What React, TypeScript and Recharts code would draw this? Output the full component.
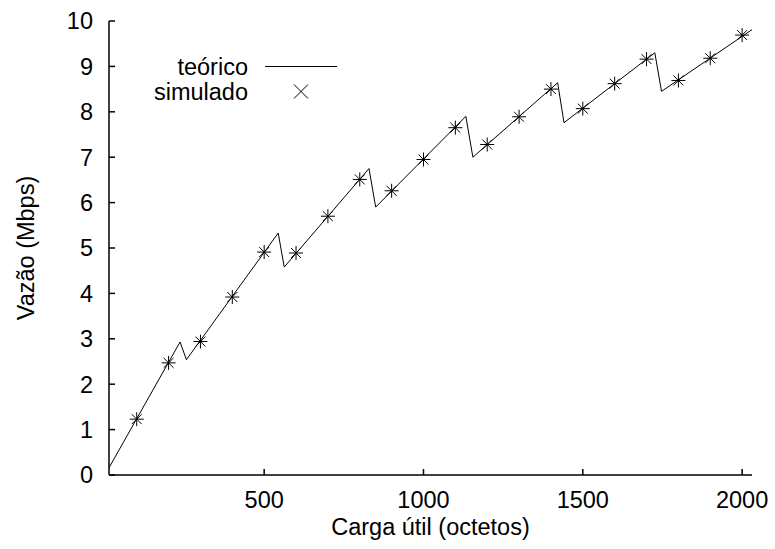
import React from 'react';
import { ComposedChart, Line, Scatter, XAxis, YAxis, Label } from 'recharts';

const theoryX = [13, 236, 256, 544, 563, 829, 850, 1133, 1155, 1421, 1441, 1726, 1747, 2031];
const theoryY = [0.16, 2.93, 2.54, 5.33, 4.58, 6.75, 5.9, 7.9, 7.0, 8.64, 7.76, 9.3, 8.45, 9.81];
const simX = [100, 200, 300, 400, 500, 600, 700, 800, 900, 1000, 1100, 1200, 1300, 1400, 1500, 1600, 1700, 1800, 1900, 2000];
const simY = [1.23, 2.47, 2.94, 3.92, 4.91, 4.89, 5.7, 6.51, 6.26, 6.95, 7.65, 7.28, 7.89, 8.5, 8.07, 8.62, 9.16, 8.69, 9.18, 9.69];
const xTicks = [500, 1000, 1500, 2000];
const yTicks = [0, 1, 2, 3, 4, 5, 6, 7, 8, 9, 10];
const xDomain = [13, 2031];
const yDomain = [0, 10];
const seriesNames = ['teórico', 'simulado'];

const theoryData = theoryX.map((x, i) => ({ x, y: theoryY[i] }));
const simData = simX.map((x, i) => ({ x, y: simY[i] }));

const FONT = '"Liberation Sans", Arial, Helvetica, sans-serif';
const FS = 23.5;
const tickStyle = { fontSize: FS, fill: '#000', fontFamily: FONT };

const Star = (props: any) => {
  const { cx, cy } = props;
  if (cx == null || cy == null) return null;
  const r = 7;
  const d = r * 0.7071;
  return (
    <g stroke="#000" strokeWidth={1}>
      <line x1={cx - r} y1={cy} x2={cx + r} y2={cy} />
      <line x1={cx} y1={cy - r} x2={cx} y2={cy + r} />
      <line x1={cx - d} y1={cy - d} x2={cx + d} y2={cy + d} />
      <line x1={cx - d} y1={cy + d} x2={cx + d} y2={cy - d} />
    </g>
  );
};

const LegendOverlay = () => (
  <svg width={400} height={110} style={{ position: 'absolute', left: 0, top: 0, display: 'block', pointerEvents: 'none' }}>
    <text x={248} y={74.5} textAnchor="end" fontSize={FS} fontFamily={FONT} fill="#000">{seriesNames[0]}</text>
    <line x1={265} y1={66.5} x2={337} y2={66.5} stroke="#000" strokeWidth={1} />
    <text x={248} y={99.5} textAnchor="end" fontSize={FS} fontFamily={FONT} fill="#000">{seriesNames[1]}</text>
    <g stroke="#000" strokeWidth={1}>
      <line x1={294} y1={84.5} x2={308} y2={98.5} />
      <line x1={294} y1={98.5} x2={308} y2={84.5} />
    </g>
  </svg>
);

export default function App() {
  return (
    <div style={{ position: 'absolute', left: 0, top: 0, width: 775, height: 549, background: '#fff' }}>
      <ComposedChart width={775} height={549} margin={{ top: 21, right: 23, bottom: 34, left: 39 }}>
        <XAxis
          xAxisId={0}
          dataKey="x"
          type="number"
          domain={xDomain}
          ticks={xTicks}
          allowDataOverflow
          height={40}
          tickSize={-6}
          tickMargin={22}
          tick={tickStyle}
          axisLine={{ stroke: '#000', strokeWidth: 1.5 }}
          tickLine={{ stroke: '#000', strokeWidth: 1.5 }}
        >
          <Label
            value="Carga útil (octetos)"
            position="bottom"
            offset={3}
            style={{ fontSize: FS, fill: '#000', fontFamily: FONT }}
          />
        </XAxis>
        <XAxis
          xAxisId="top"
          orientation="top"
          dataKey="x"
          type="number"
          domain={xDomain}
          ticks={xTicks}
          allowDataOverflow
          height={0}
          tickSize={-6}
          tick={false}
          axisLine={{ stroke: '#000', strokeWidth: 1.5 }}
          tickLine={{ stroke: '#000', strokeWidth: 1.5 }}
        />
        <YAxis
          yAxisId={0}
          type="number"
          domain={yDomain}
          ticks={yTicks}
          allowDataOverflow
          width={70}
          tickSize={-6}
          tickMargin={22}
          tick={tickStyle}
          axisLine={{ stroke: '#000', strokeWidth: 1.5 }}
          tickLine={{ stroke: '#000', strokeWidth: 1.5 }}
        >
          <Label
            value="Vazão (Mbps)"
            angle={-90}
            position="insideLeft"
            offset={-13}
            style={{ fontSize: FS, fill: '#000', fontFamily: FONT, textAnchor: 'middle' }}
          />
        </YAxis>
        <YAxis
          yAxisId="right"
          orientation="right"
          type="number"
          domain={yDomain}
          ticks={yTicks}
          allowDataOverflow
          width={0}
          tickSize={-6}
          tick={false}
          axisLine={{ stroke: '#000', strokeWidth: 1.5 }}
          tickLine={{ stroke: '#000', strokeWidth: 1.5 }}
        />
        <Line
          data={theoryData}
          dataKey="y"
          name={seriesNames[0]}
          type="linear"
          stroke="#000"
          strokeWidth={1}
          dot={false}
          activeDot={false}
          isAnimationActive={false}
        />
        <Scatter
          data={simData}
          dataKey="y"
          name={seriesNames[1]}
          shape={Star}
          isAnimationActive={false}
        />
      </ComposedChart>
      <LegendOverlay />
    </div>
  );
}
